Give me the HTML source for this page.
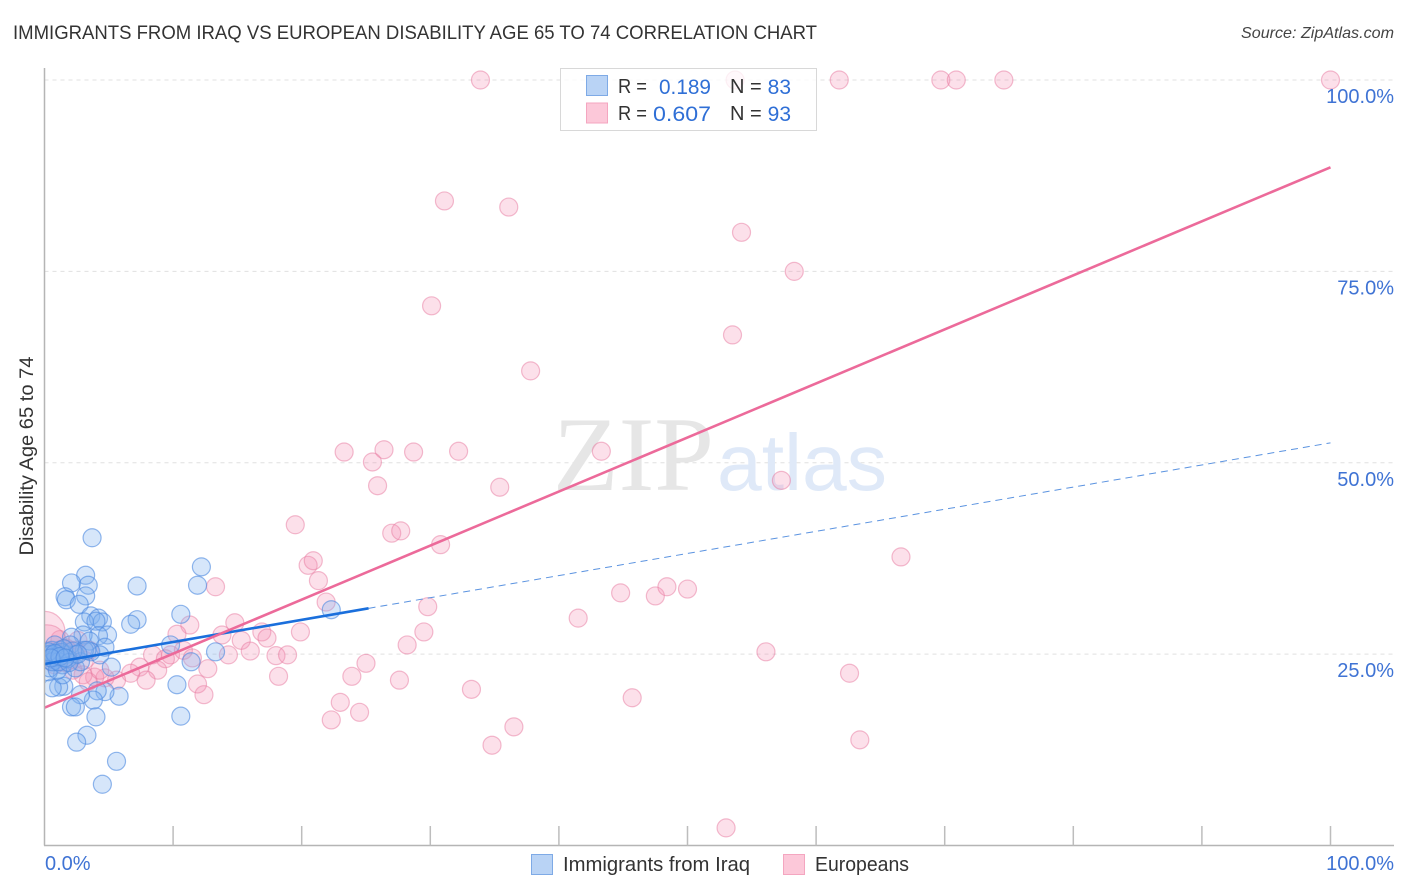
<!DOCTYPE html>
<html lang="en">
<head>
<meta charset="utf-8">
<title>Immigrants from Iraq vs European Disability Age 65 to 74 Correlation Chart</title>
<style>
html,body{margin:0;padding:0;background:#fff;width:1406px;height:892px;overflow:hidden}
svg{display:block;font-family:"Liberation Sans",sans-serif}
.tick{fill:#3f73d4;font-size:20px}
.legend-text{fill:#333;font-size:20px}
.legend-value{fill:#2f6fd6;font-size:21px}
</style>
</head>
<body>
<svg id="chart" width="1406" height="892" viewBox="0 0 1406 892" xmlns="http://www.w3.org/2000/svg">
  <defs><clipPath id="plot-clip"><rect x="45" y="60" width="1349" height="785"/></clipPath></defs>
  <text x="13" y="39" font-size="19" fill="#333" textLength="804" lengthAdjust="spacingAndGlyphs">IMMIGRANTS FROM IRAQ VS EUROPEAN DISABILITY AGE 65 TO 74 CORRELATION CHART</text>
  <text x="1241" y="38" font-size="16" font-style="italic" fill="#444" textLength="153" lengthAdjust="spacingAndGlyphs">Source: ZipAtlas.com</text>
  <text transform="translate(33,456) rotate(-90)" font-size="19" fill="#333" text-anchor="middle" textLength="199" lengthAdjust="spacingAndGlyphs">Disability Age 65 to 74</text>

  <g id="grid"></g>
  <g>
    <text x="553" y="490" font-family="'Liberation Serif',serif" font-size="106" fill="#e6e6e6" textLength="161" lengthAdjust="spacingAndGlyphs">ZIP</text>
    <text x="717" y="490" font-size="80" fill="#dfe9f8" textLength="170" lengthAdjust="spacingAndGlyphs">atlas</text>
  </g>

  <g id="points" clip-path="url(#plot-clip)"></g>
  <g id="trends" clip-path="url(#plot-clip)"></g>

  <g id="axes">
    <line x1="44.5" y1="68" x2="44.5" y2="845.5" stroke="#b5b5b5" stroke-width="1.5"/>
    <line x1="44" y1="845.5" x2="1394" y2="845.5" stroke="#b5b5b5" stroke-width="1.5"/>
  </g>

  <g>
    <rect x="560.5" y="68.5" width="256" height="62" fill="#fff" fill-opacity="0.78" stroke="#d8d8d8" stroke-width="1"/>
    <rect x="586.5" y="75.5" width="21" height="20" fill="#b9d3f5" stroke="#7eaae6"/>
    <rect x="586.5" y="103" width="21" height="20" fill="#fcc8d9" stroke="#f4a6c0"/>
    <text class="legend-text" x="618" y="93" textLength="29" lengthAdjust="spacingAndGlyphs">R =</text>
    <text class="legend-value" x="659" y="94" textLength="52" lengthAdjust="spacingAndGlyphs">0.189</text>
    <text class="legend-text" x="730" y="93">N =</text>
    <text class="legend-value" x="791" y="94" text-anchor="end">83</text>
    <text class="legend-text" x="618" y="120" textLength="29" lengthAdjust="spacingAndGlyphs">R =</text>
    <text class="legend-value" x="653" y="121" textLength="58" lengthAdjust="spacingAndGlyphs">0.607</text>
    <text class="legend-text" x="730" y="120">N =</text>
    <text class="legend-value" x="791" y="121" text-anchor="end">93</text>
  </g>

  <g>
    <g>
      <rect x="531.5" y="854.5" width="21" height="20" fill="#b9d3f5" stroke="#7eaae6"/>
      <text x="563" y="871" font-size="20" fill="#333" textLength="187" lengthAdjust="spacingAndGlyphs">Immigrants from Iraq</text>
    </g>
    <g>
      <rect x="783.5" y="854.5" width="21" height="20" fill="#fcc8d9" stroke="#f4a6c0"/>
      <text x="815" y="871" font-size="20" fill="#333" textLength="94" lengthAdjust="spacingAndGlyphs">Europeans</text>
    </g>
  </g>
</svg>
<script>
// Immigrants from Iraq: x = share of immigrants (%), y = disability rate (%)
const iraqX = [3.7,12.2,3.2,2.1,3.4,7.2,11.9,1.6,1.7,3.2,2.7,3.6,4.2,4.5,3.1,4.0,7.2,6.7,10.6,22.3,4.9,4.2,3.0,2.1,3.5,4.7,4.3,3.6,9.8,13.3,11.4,5.2,10.3,5.8,4.7,4.1,3.8,2.8,2.1,2.4,10.6,4.0,3.3,2.5,5.6,4.5,1.5,1.1,0.6,1.4,2.4,3.1,2.0,1.2,0.6,0.4,0.8,0.3,0.4,0.8,1.6,2.4,1.4,0.7,1.0,0.2,2.8,3.3,0.5,0.9,1.3,1.8,2.2,0.6,1.1,1.5,0.3,0.8,1.9,2.6,1.2,0.5,1.6];
const iraqY = [40.2,36.4,35.3,34.3,34.0,33.9,34.0,32.5,32.1,32.6,31.5,30.0,29.7,29.2,29.2,29.3,29.5,28.9,30.2,30.8,27.5,27.4,27.5,27.2,26.7,25.9,24.9,25.3,26.2,25.3,24.0,23.3,21.0,19.5,20.1,20.2,19.0,19.7,18.1,18.1,16.9,16.8,14.4,13.5,11.0,8.0,20.8,20.7,20.6,22.3,23.2,25.5,26.2,25.5,25.5,24.2,24.2,22.7,23.2,26.2,24.9,24.9,23.6,24.9,22.9,24.9,24.0,25.5,25.0,24.6,25.2,24.4,25.4,24.0,24.0,25.7,25.3,25.1,23.9,25.0,24.7,24.5,24.5];

// Europeans: x = share of Europeans (%), y = disability rate (%)
const europeansX = [33.9,53.7,61.8,69.7,70.9,74.6,100,31.1,36.1,54.2,58.3,30.1,53.5,37.8,23.3,26.4,25.5,28.7,32.2,43.3,25.9,35.4,57.3,19.5,27.0,27.7,30.8,66.6,20.5,20.9,21.3,13.3,44.8,47.5,48.4,50.0,21.9,29.8,41.5,14.8,11.3,29.5,19.9,10.3,13.8,16.9,28.2,56.1,15.3,17.3,16.0,14.3,18.0,18.9,8.4,9.8,10.8,9.4,11.5,25.0,23.9,18.2,27.6,62.6,12.7,8.8,7.4,7.9,33.2,11.9,12.4,45.7,23.0,24.5,22.3,36.5,34.8,63.4,53.0,6.7,5.6,4.7,3.9,3.0,2.2,3.4,4.3,1.2,2.4,2.0,3.1,1.2,0.4,0.8,1.7,0.3,2.6,3.5,0,0.2,1.0,1.5];
const europeansY = [100,100,100,100,100,100,100,84.2,83.4,80.1,75.0,70.5,66.7,62.0,51.4,51.7,50.1,51.4,51.5,51.5,47.0,46.8,47.7,41.9,40.8,41.1,39.3,37.7,36.6,37.2,34.6,33.8,33.0,32.6,33.8,33.5,31.8,31.2,29.7,29.1,28.8,27.9,27.9,27.6,27.5,27.9,26.2,25.3,26.8,27.1,25.4,24.9,24.8,24.9,24.9,24.9,25.5,24.4,24.5,23.8,22.1,22.1,21.6,22.5,23.1,22.9,23.3,21.6,20.4,21.1,19.7,19.3,18.7,17.4,16.4,15.5,13.1,13.8,2.3,22.5,21.6,21.9,22.0,22.3,22.9,21.4,22.9,26.9,25.5,24.2,24.2,24.9,25.5,23.6,25.8,24.2,26.8,25.5,27.9,26.2,24.6,24.8];
// Relative sample weight of each European point (omitted entries weigh 1)
const europeansWeight = {98:5.2,99:5,100:2,101:3};

// Trend lines: value at x=0 and x=100, plus where the solid part ends
const iraqTrend = [23.7,52.6];
const iraqTrendSolidEnd = 25.2;
const europeansTrend = [18.0,88.6];

// Axis labels
const yTicks = [25,50,75,100];
const yTickLabels = ["25.0%","50.0%","75.0%","100.0%"];
const xTicks = [0,10,20,30,40,50,60,70,80,90,100];
const xEndLabels = ["0.0%","100.0%"];

const NS = "http://www.w3.org/2000/svg";
const sx = v => 44.5 + v * 12.86;
const sy = v => 845.5 - v * 7.655;

function make(tag, parent, attrs){
  const el = document.createElementNS(NS, tag);
  for (const k in attrs) el.setAttribute(k, attrs[k]);
  parent.appendChild(el);
  return el;
}

const gridG = document.getElementById("grid");
const axesG = document.getElementById("axes");
const pointsG = document.getElementById("points");
const trendsG = document.getElementById("trends");

yTicks.forEach((t, i) => {
  const line = make("line", gridG, {x1:44.5, x2:1394, y1:sy(t), y2:sy(t), stroke:"#e0e0e0", "stroke-width":1, "stroke-dasharray":"4 4"});
  
  
  const label = make("text", axesG, {x:1394, y:sy(t)+23, "text-anchor":"end", class:"tick"});
  label.textContent = yTickLabels[i];
  
  
});

xTicks.forEach(t => {
  if (t === 0) return;
  const tick = make("line", axesG, {x1:sx(t), x2:sx(t), y1:826, y2:845.5, stroke:"#bdbdbd", "stroke-width":1.5});
  
  
});

const xLabel0 = make("text", axesG, {x:45, y:870, class:"tick"});
xLabel0.textContent = xEndLabels[0];


const xLabel1 = make("text", axesG, {x:1394, y:870, "text-anchor":"end", class:"tick"});
xLabel1.textContent = xEndLabels[1];



europeansX.forEach((x, i) => {
  const w = europeansWeight[i] || 1;
  const c = make("circle", pointsG, {cx:sx(x), cy:sy(europeansY[i]), r:9 * Math.sqrt(w), fill:"#f590b2", "fill-opacity":0.28, stroke:"#e87a9f", "stroke-opacity":0.5, "stroke-width":1.2});
  
  
});

iraqX.forEach((x, i) => {
  const c = make("circle", pointsG, {cx:sx(x), cy:sy(iraqY[i]), r:9, fill:"#7fb0ee", "fill-opacity":0.32, stroke:"#4f8be0", "stroke-opacity":0.62, "stroke-width":1.2});
  
  
});

const iraqAt = x => iraqTrend[0] + (iraqTrend[1] - iraqTrend[0]) * x / 100;
const europeansAt = x => europeansTrend[0] + (europeansTrend[1] - europeansTrend[0]) * x / 100;

const iraqSolid = make("line", trendsG, {x1:sx(0), y1:sy(iraqAt(0)), x2:sx(iraqTrendSolidEnd), y2:sy(iraqAt(iraqTrendSolidEnd)), stroke:"#1a6fdc", "stroke-width":2.6});


const iraqDash = make("line", trendsG, {x1:sx(iraqTrendSolidEnd), y1:sy(iraqAt(iraqTrendSolidEnd)), x2:sx(100), y2:sy(iraqAt(100)), stroke:"#5b93e0", "stroke-width":1, "stroke-dasharray":"7 5"});


const eurLine = make("line", trendsG, {x1:sx(0), y1:sy(europeansAt(0)), x2:sx(100), y2:sy(europeansAt(100)), stroke:"#ec6a9a", "stroke-width":2.6});


</script>
</body>
</html>
